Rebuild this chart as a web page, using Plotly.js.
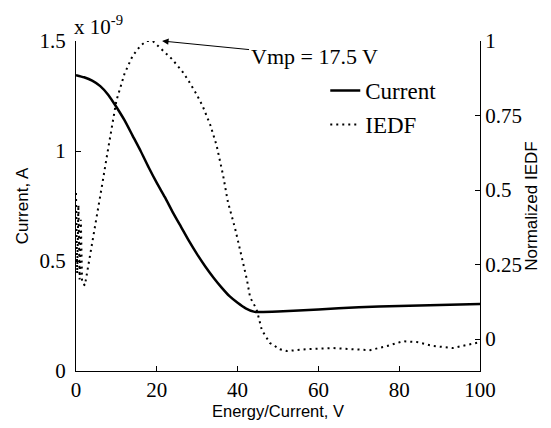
<!DOCTYPE html>
<html>
<head>
<meta charset="utf-8">
<script src="https://cdn.plot.ly/plotly-3.0.1.min.js"></script>
<style>html,body{margin:0;padding:0;background:#fff;}#chart{width:551px;height:428px;}</style>
</head>
<body>
<div id="chart"></div>
<script>
// Current (units of 1e-9 A) vs energy
var currentX = [0, 2, 4, 6, 8, 10, 12, 14, 16, 18, 20, 22, 24, 26, 28, 30, 32, 34, 36, 38, 40, 42, 44, 45, 50, 60, 70, 80, 90, 100];
var currentY = [1.345, 1.335, 1.32, 1.295, 1.255, 1.2, 1.14, 1.07, 1.0, 0.925, 0.855, 0.79, 0.72, 0.655, 0.59, 0.53, 0.475, 0.425, 0.38, 0.34, 0.31, 0.285, 0.27, 0.268, 0.27, 0.28, 0.29, 0.295, 0.30, 0.305];
// Normalized IEDF
var iedfX = [0, 0.3, 0.6, 0.9, 1.2, 1.5, 2.2, 3.5, 5, 6.5, 7.6, 8, 10, 12, 14, 16, 17.5, 19, 21, 23.7, 26.2, 27.7, 29.9, 31.4, 33.2, 34.8, 36.4, 37.6, 39.4, 40.6, 42.3, 43.1, 44.7, 46, 48, 50.5, 52.2, 57, 63.6, 68.6, 72.8, 77, 81, 84.4, 88.4, 93.3, 97.5, 100];
var iedfY = [0.49, 0.22, 0.45, 0.2, 0.4, 0.19, 0.18, 0.28, 0.40, 0.52, 0.61, 0.64, 0.80, 0.89, 0.95, 0.985, 1.0, 1.0, 0.975, 0.94, 0.9, 0.87, 0.82, 0.78, 0.72, 0.65, 0.55, 0.46, 0.37, 0.30, 0.20, 0.14, 0.10, 0.03, -0.013, -0.034, -0.04, -0.034, -0.03, -0.034, -0.037, -0.023, -0.007, -0.01, -0.023, -0.03, -0.017, -0.01];
var seriesNames = ['Current', 'IEDF'];
var xTicks = [0, 20, 40, 60, 80, 100];
var yTicks = [0, 0.5, 1, 1.5];
var yTickText = ['0', '0.5', '1', '1.5'];
var y2Ticks = [0, 0.25, 0.5, 0.75, 1];
var y2TickText = ['0', '0.25', '0.5', '0.75', '1'];
var peakLabel = 'Vmp = 17.5 V';
var peakX = 21.3, peakY = 1.0;

var serif = 'Liberation Serif, Times New Roman, serif';
var sans = 'Liberation Sans, Arial, sans-serif';

var traces = [
  {x: currentX, y: currentY, type: 'scatter', mode: 'lines', name: seriesNames[0], legendgroup: 'a',
   line: {color: '#000', width: 2.5, shape: 'spline', smoothing: 0.6}, yaxis: 'y'},
  {x: iedfX, y: iedfY, type: 'scatter', mode: 'lines', name: seriesNames[1], legendgroup: 'b',
   line: {color: '#000', width: 2, dash: '2px,4px'}, yaxis: 'y2'}
];

var axisCommon = {
  showgrid: false, zeroline: false, showline: true, linecolor: '#000', linewidth: 1,
  ticks: 'inside', ticklen: 5, tickcolor: '#000', tickwidth: 1,
  tickfont: {family: serif, size: 21, color: '#000'}
};

var layout = {
  width: 551, height: 428,
  margin: {l: 76, r: 71, t: 41, b: 57},
  paper_bgcolor: '#fff', plot_bgcolor: '#fff',
  showlegend: true,
  legend: {x: 0.617, y: 0.915, xanchor: 'left', yanchor: 'top', bgcolor: 'rgba(0,0,0,0)',
           font: {family: serif, size: 23, color: '#000'}, tracegroupgap: 1, traceorder: 'grouped'},
  xaxis: Object.assign({}, axisCommon, {range: [0, 100], tickvals: xTicks,
    title: {text: 'Energy/Current, V', font: {family: sans, size: 16.5, color: '#000'}, standoff: 4}}),
  yaxis: Object.assign({}, axisCommon, {range: [0, 1.5], tickvals: yTicks, ticktext: yTickText,
    ticklabelstandoff: 5,
    title: {text: 'Current, A', font: {family: sans, size: 17, color: '#000'}, standoff: 6}}),
  yaxis2: Object.assign({}, axisCommon, {range: [-0.107, 1.0], tickvals: y2Ticks, ticktext: y2TickText,
    overlaying: 'y', side: 'right',
    title: {text: 'Normalized IEDF', font: {family: sans, size: 17, color: '#000'}, standoff: 2}}),
  annotations: [
    {x: peakX, y: peakY, xref: 'x', yref: 'y2', text: peakLabel, showarrow: true,
     ax: 152, ay: 15, axref: 'pixel', arrowhead: 2, arrowsize: 1.3, arrowwidth: 1, arrowcolor: '#000',
     font: {family: serif, size: 22, color: '#000'}},
    {x: 0, y: 1, xref: 'paper', yref: 'paper', xanchor: 'left', yanchor: 'bottom', showarrow: false,
     text: 'x 10<sup>-9</sup>', font: {family: serif, size: 21, color: '#000'}, xshift: -4, yshift: 0}
  ]
};

Plotly.newPlot('chart', traces, layout, {displayModeBar: false, staticPlot: true});
</script>
</body>
</html>
